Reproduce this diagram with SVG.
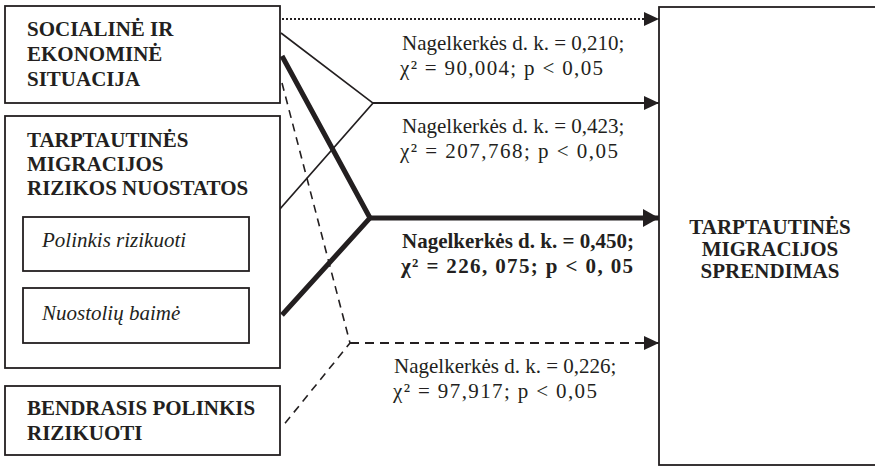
<svg xmlns="http://www.w3.org/2000/svg" width="875" height="466" viewBox="0 0 875 466">
<style>
.box{fill:#fff;stroke:#231f20;stroke-width:1.8}
.t{font-family:'Liberation Serif','Tinos','Times New Roman',Times,'DejaVu Serif',serif;font-size:21px;fill:#231f20}
.b{font-weight:bold}
.i{font-style:italic}
.ln{fill:none;stroke:#231f20}
</style>
<defs>
<marker id="ah" markerUnits="userSpaceOnUse" markerWidth="16" markerHeight="16" refX="15" refY="7" orient="auto">
<path d="M0,0 L15,7 L0,14 Z" fill="#231f20"/>
</marker>
<marker id="ahb" markerUnits="userSpaceOnUse" markerWidth="17" markerHeight="20" refX="16" refY="9" orient="auto">
<path d="M0,0 L16,9 L0,18 Z" fill="#231f20"/>
</marker>
</defs>
<rect width="875" height="466" fill="#fff"/>
<g id="connectors">
<line class="ln" x1="282" y1="19" x2="659" y2="19" stroke-width="2" stroke-dasharray="2 2" marker-end="url(#ah)"/>
<polyline class="ln" points="281,33 373,103 250,243" stroke-width="1.6"/>
<line class="ln" x1="373" y1="103" x2="659" y2="103" stroke-width="2.2" marker-end="url(#ah)"/>
<polyline class="ln" points="282,56 370,218 282,315" stroke-width="5" stroke-linejoin="miter"/>
<line class="ln" x1="370" y1="218" x2="659" y2="218" stroke-width="5" marker-end="url(#ahb)"/>
<polyline class="ln" points="282,83 350,343 282,427" stroke-width="1.6" stroke-dasharray="8 6"/>
<line class="ln" x1="350" y1="343" x2="659" y2="343" stroke-width="2.2" stroke-dasharray="9 6" marker-end="url(#ah)"/>
</g>
<g id="label1">
<text class="t" x="402" y="50">Nagelkerkės d. k. = 0,210;</text>
<text class="t" x="400" y="75" textLength="203" lengthAdjust="spacing">χ² = 90,004;  p &lt; 0,05</text>
</g>
<g id="label2">
<text class="t" x="402" y="133">Nagelkerkės d. k. = 0,423;</text>
<text class="t" x="400" y="158" textLength="218" lengthAdjust="spacing">χ² = 207,768;  p &lt; 0,05</text>
</g>
<g id="label3">
<text class="t b" x="402" y="248">Nagelkerkės d. k. = 0,450;</text>
<text class="t b" x="401" y="273" textLength="232" lengthAdjust="spacing">χ² = 226, 075;  p &lt; 0, 05</text>
</g>
<g id="label4">
<text class="t" x="394" y="373">Nagelkerkės d. k. = 0,226;</text>
<text class="t" x="393" y="398" textLength="204" lengthAdjust="spacing">χ² = 97,917;  p &lt; 0,05</text>
</g>
<g id="node-socialine">
<rect class="box" x="5" y="6" width="275" height="97"/>
<text class="t b" x="27" y="36">SOCIALINĖ IR</text>
<text class="t b" x="27" y="61">EKONOMINĖ</text>
<text class="t b" x="27" y="86">SITUACIJA</text>
</g>
<g id="node-nuostatos">
<rect class="box" x="5" y="116" width="275" height="252"/>
<text class="t b" x="27" y="147">TARPTAUTINĖS</text>
<text class="t b" x="27" y="171">MIGRACIJOS</text>
<text class="t b" x="27" y="195">RIZIKOS NUOSTATOS</text>
</g>
<g id="node-polinkis">
<rect class="box" x="23" y="217" width="226" height="54"/>
<text class="t i" x="42" y="247">Polinkis rizikuoti</text>
</g>
<g id="node-baime">
<rect class="box" x="23" y="288" width="226" height="55"/>
<text class="t i" x="42" y="320">Nuostolių baimė</text>
</g>
<g id="node-bendrasis">
<rect class="box" x="5" y="386" width="275" height="69"/>
<text class="t b" x="27" y="415">BENDRASIS POLINKIS</text>
<text class="t b" x="27" y="440">RIZIKUOTI</text>
</g>
<g id="node-sprendimas">
<rect class="box" x="659" y="7" width="230" height="458"/>
<text class="t b" x="770" y="234" text-anchor="middle">TARPTAUTINĖS</text>
<text class="t b" x="770" y="256" text-anchor="middle">MIGRACIJOS</text>
<text class="t b" x="770" y="278" text-anchor="middle">SPRENDIMAS</text>
</g>
</svg>
